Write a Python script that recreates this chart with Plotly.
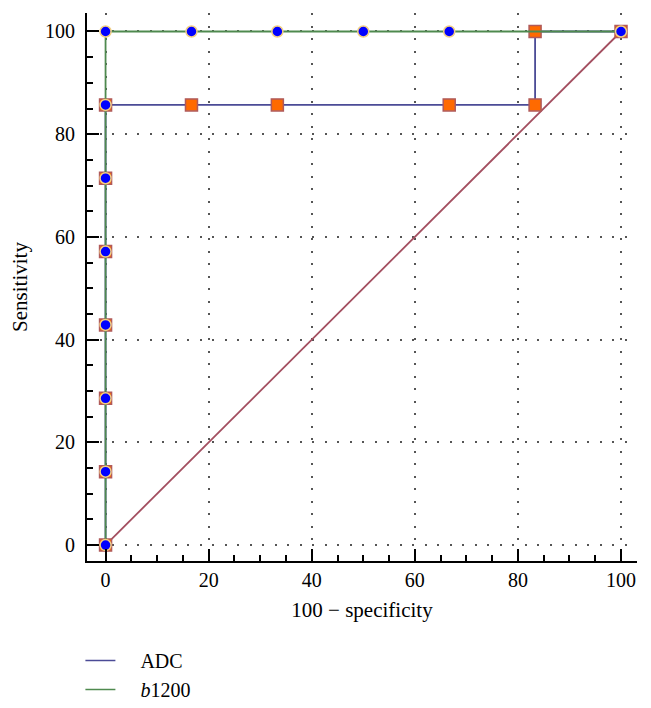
import plotly.graph_objects as go

# ROC data (100 - specificity, sensitivity)
adc_x = [0, 0, 0, 0, 0, 0, 0, 16.67, 33.33, 66.67, 83.33, 83.33, 100]
adc_y = [0, 14.29, 28.57, 42.86, 57.14, 71.43, 85.71, 85.71, 85.71, 85.71, 85.71, 100, 100]

b1200_x = [0, 0, 0, 0, 0, 0, 0, 0, 16.67, 33.33, 50, 66.67, 100]
b1200_y = [0, 14.29, 28.57, 42.86, 57.14, 71.43, 85.71, 100, 100, 100, 100, 100, 100]

diag_x = [0, 100]
diag_y = [0, 100]

series_names = ["\u00a0\u00a0\u00a0\u00a0ADC", "\u00a0\u00a0\u00a0\u00a0<i>b</i>1200"]
tick_vals = [0, 20, 40, 60, 80, 100]

FONT = "Liberation Serif"
ADC_COL = "#4b4b96"
B_COL = "#4f8a4f"
DIAG_COL = "#a34f60"

fig = go.Figure()

fig.add_trace(go.Scatter(x=diag_x, y=diag_y, mode="lines",
                         line=dict(color=DIAG_COL, width=1.8), showlegend=False,
                         hoverinfo="skip"))
fig.add_trace(go.Scatter(x=adc_x, y=adc_y, mode="lines+markers",
                         line=dict(color=ADC_COL, width=1.8),
                         marker=dict(symbol="square", size=12, color="#ff6a00",
                                     line=dict(color="#b05a5a", width=1.5)),
                         showlegend=False))
fig.add_trace(go.Scatter(x=b1200_x, y=b1200_y, mode="lines+markers",
                         line=dict(color=B_COL, width=1.8),
                         marker=dict(symbol="circle", size=11, color="#0000ff",
                                     line=dict(color="#f2cf85", width=1.5)),
                         showlegend=False))

# legend-only entries (lines only)
fig.add_trace(go.Scatter(x=[None], y=[None], mode="lines", name=series_names[0],
                         line=dict(color=ADC_COL, width=1.5)))
fig.add_trace(go.Scatter(x=[None], y=[None], mode="lines", name=series_names[1],
                         line=dict(color=B_COL, width=1.5)))

axis_common = dict(
    tickvals=tick_vals,
    ticks="inside", ticklen=12, tickwidth=2, tickcolor="black",
    minor=dict(dtick=5, tick0=0, ticks="inside", ticklen=6, tickwidth=1.5,
               tickcolor="black", showgrid=False),
    showline=True, linecolor="black", linewidth=2,
    showgrid=True, gridcolor="#555555", gridwidth=1.5, griddash="2px,10.5px",
    zeroline=False, automargin=False,
    tickfont=dict(family=FONT, size=20, color="black"),
)

fig.update_xaxes(range=[-3.6, 103.1],
                 title=dict(text="100 − specificity", font=dict(family=FONT, size=21, color="black"),
                            standoff=12),
                 **axis_common)
fig.update_yaxes(range=[-3.1, 103.6], ticklabelstandoff=6,
                 title=dict(text="Sensitivity", font=dict(family=FONT, size=21, color="black"),
                            standoff=12),
                 **axis_common)

fig.update_layout(
    width=651, height=708,
    margin=dict(l=79, r=22, t=5, b=155, autoexpand=False),
    plot_bgcolor="white", paper_bgcolor="white",
    font=dict(family=FONT, size=20, color="black"),
    legend=dict(x=-0.012, y=-0.146, xanchor="left", yanchor="top",
                font=dict(family=FONT, size=20, color="black"),
                itemwidth=30, tracegroupgap=0, bgcolor="rgba(0,0,0,0)"),
)

fig.write_html("out.html")
